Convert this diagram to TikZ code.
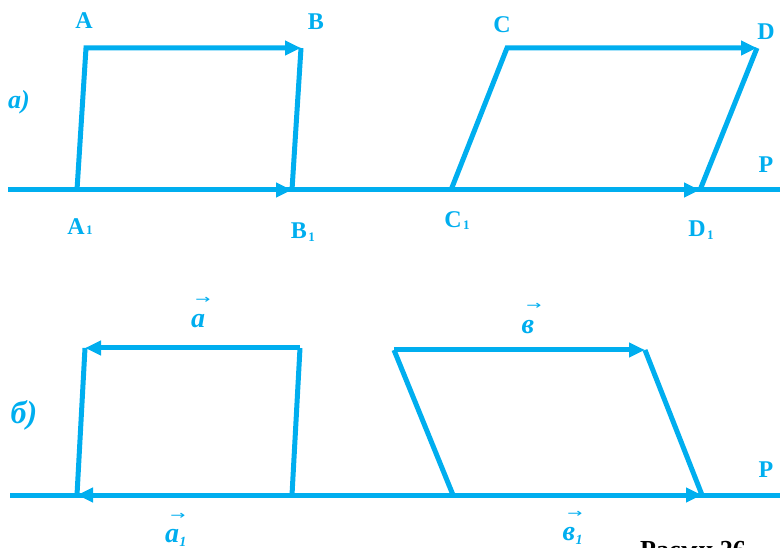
\documentclass[tikz,border=0pt]{standalone}
\usepackage{fontspec}
\setmainfont{Liberation Serif}
\newfontfamily\arrowfont{DejaVu Sans}
\usetikzlibrary{arrows.meta}
\definecolor{cyanline}{RGB}{0,174,239}
\begin{document}
\begin{tikzpicture}[x=1pt,y=-1pt,
  seg/.style={draw=cyanline,line width=5pt,line join=miter},
  vec/.style={seg,-{Triangle[length=16pt,width=14pt]}},
  lab/.style={text=cyanline,font=\fontsize{24}{26}\selectfont\bfseries,inner sep=0pt},
  sub/.style={text=cyanline,font=\fontsize{13}{13}\selectfont\bfseries,inner sep=0pt},
  vletter/.style={text=cyanline,font=\fontsize{28}{30}\selectfont\bfseries\itshape,inner sep=0pt},
  vsub/.style={text=cyanline,font=\fontsize{14}{14}\selectfont\bfseries\itshape,inner sep=0pt},
  varrow/.style={text=cyanline,font=\fontsize{12}{12}\arrowfont,inner sep=0pt},
  part/.style={text=cyanline,font=\fontsize{26}{28}\selectfont\bfseries\itshape,inner sep=0pt}]
\clip (0,0) rectangle (780,548);
% --- part a)
\coordinate (P1l) at (8,190);
\coordinate (P1r) at (780,190);
\draw[seg] (P1l) -- (P1r);
\coordinate (A) at (86,48);
\coordinate (B) at (301,48);
\coordinate (A1) at (77,190);
\coordinate (B1) at (292,190);
\draw[seg] (B) -- (B1);
\draw[vec] (A1) -- (A) -- (B);
\draw[vec] (A1) -- (B1);
\coordinate (C) at (507,48);
\coordinate (D) at (757,48);
\coordinate (C1) at (451,190);
\coordinate (D1) at (700,190);
\draw[seg] (D) -- (D1);
\draw[vec] (C1) -- (C) -- (D);
\draw[vec] (C1) -- (D1);
\node[lab] (lA) at (84,21) {A};
\node[lab] (lB) at (316,22) {B};
\node[lab] (lA1) at (76,227) {A};
\node[sub,anchor=base west] (sA1) at ([xshift=1pt]lA1.base east) {1};
\node[lab] (lB1) at (299,231) {B};
\node[sub,anchor=base west] (sB1) at ([xshift=1pt,yshift=-3pt]lB1.base east) {1};
\node[lab] (lC) at (502,25) {C};
\node[lab] (lD) at (766,32) {D};
\node[lab] (lC1) at (453,220) {C};
\node[sub,anchor=base west] (sC1) at ([xshift=1pt,yshift=-2pt]lC1.base east) {1};
\node[lab] (lD1) at (697,229) {D};
\node[sub,anchor=base west] (sD1) at ([xshift=1pt,yshift=-3pt]lD1.base east) {1};
\node[lab] (lP1) at (766,165) {P};
\node[part] (pa) at (19,102) {a)};
% --- part б)
\coordinate (P2l) at (10,495);
\coordinate (P2r) at (780,495);
\draw[seg] (P2l) -- (P2r);
\coordinate (a0) at (300,348);
\coordinate (a1) at (85,348);
\coordinate (a2) at (292,495);
\coordinate (a3) at (77,495);
\draw[seg] (a0) -- (a2);
\draw[seg] (a1) -- (a3);
\draw[vec] (a0) -- (a1);
\draw[vec] (a2) -- (a3);
\coordinate (b0) at (394,350);
\coordinate (b1) at (645,350);
\coordinate (b2) at (453,495);
\coordinate (b3) at (702,495);
\draw[seg] (b0) -- (b2);
\draw[seg] (b1) -- (b3);
\draw[vec] (b0) -- (b1);
\draw[vec] (b2) -- (b3);
\node[vletter] (va) at (198,321) {a};
\node[varrow] (vaa) at (203,300) {\scalebox{1.5}[1]{→}};
\node[vletter] (va1) at (172,536) {a};
\node[vsub,anchor=base west] (va1s) at ([yshift=-4pt]va1.base east) {1};
\node[varrow] (va1a) at (178,516) {\scalebox{1.5}[1]{→}};
\node[vletter] (vb) at (528,327) {в};
\node[varrow] (vba) at (534,306) {\scalebox{1.5}[1]{→}};
\node[vletter] (vb1) at (569,534) {в};
\node[vsub,anchor=base west] (vb1s) at ([yshift=-4pt]vb1.base east) {1};
\node[varrow] (vb1a) at (575,514) {\scalebox{1.5}[1]{→}};
\node[lab] (lP2) at (766,470) {P};
\node[part,font=\fontsize{32}{34}\selectfont\bfseries\itshape] (pb) at (24,415) {б)};
\node[anchor=base west,inner sep=0pt,font=\fontsize{26}{28}\selectfont\bfseries] (cap) at (640,558) {Расми 26};
\end{tikzpicture}
\end{document}
